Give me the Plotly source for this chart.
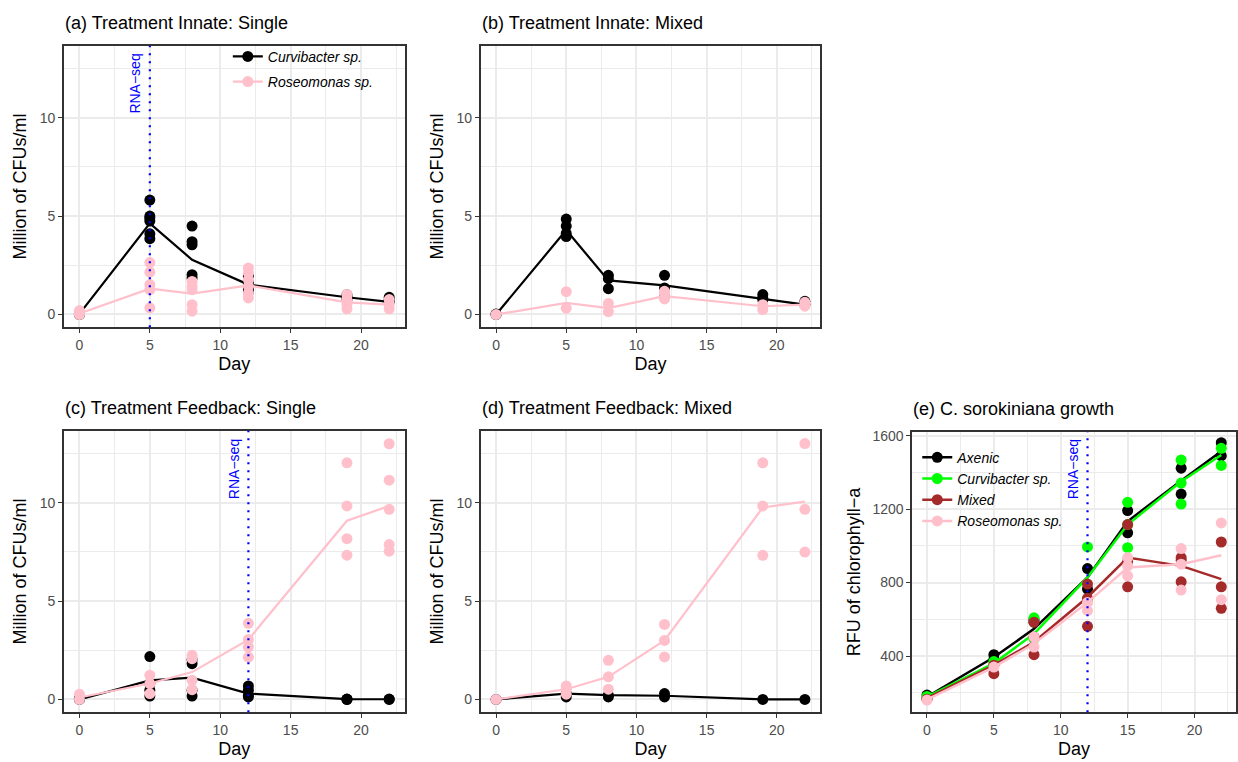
import plotly.graph_objects as go

# ---------------- data ----------------
days = [0, 5, 8, 12, 19, 22]
days_e = [0, 5, 8, 12, 15, 19, 22]

# (a) Innate: Single
a_curvi_pts = [[0.03, 0.0, 0.05], [5.81, 5.0, 4.9, 4.75, 4.1, 3.85], [4.49, 3.70, 3.54, 2.02, 1.85],
               [1.95, 1.6, 1.3, 1.15], [1.0, 0.9, 0.75], [0.87, 0.76, 0.65]]
a_curvi_mean = [0.03, 4.63, 2.78, 1.52, 0.875, 0.64]
a_rose_pts = [[0.2, 0.05, 0.0], [2.64, 2.15, 1.52, 1.26, 0.34], [1.68, 1.43, 1.26, 0.5, 0.17],
              [2.36, 2.10, 1.77, 1.43, 1.09, 0.84], [1.01, 0.76, 0.5, 0.29], [0.76, 0.5, 0.29]]
a_rose_mean = [0.05, 1.31, 1.06, 1.48, 0.62, 0.5]

# (b) Innate: Mixed
b_curvi_pts = [[0.0, 0.02], [4.85, 4.49, 4.12, 3.96], [1.99, 1.82, 1.31], [1.99, 1.35, 0.93],
               [1.01, 0.84, 0.76], [0.67, 0.5]]
b_curvi_mean = [0.0, 4.29, 1.73, 1.48, 0.79, 0.5]
b_rose_pts = [[0.0], [1.16, 0.32], [0.56, 0.15], [1.18, 1.01, 0.79], [0.5, 0.25], [0.62, 0.42]]
b_rose_mean = [0.0, 0.59, 0.32, 0.93, 0.42, 0.5]

# (c) Feedback: Single
c_curvi_pts = [[0.0, 0.05], [2.18, 0.81, 0.47, 0.17], [2.02, 1.82, 0.47, 0.17], [0.69, 0.47, 0.22, 0.13],
               [0.02, 0.0, 0.01], [0.02, 0.0]]
c_curvi_mean = [0.0, 0.97, 1.11, 0.30, 0.02, 0.01]
c_rose_pts = [[0.27, 0.0], [1.23, 0.81, 0.30], [2.24, 2.07, 0.97, 0.5], [3.87, 3.04, 2.66, 2.15],
              [12.02, 9.83, 8.17, 7.33], [12.99, 11.14, 9.66, 7.87, 7.53]]
c_rose_mean = [0.1, 0.81, 1.39, 3.04, 9.08, 9.83]

# (d) Feedback: Mixed
d_curvi_pts = [[0.0], [0.3, 0.13], [0.22, 0.13], [0.3, 0.13], [0.0], [0.0]]
d_curvi_mean = [0.0, 0.30, 0.22, 0.19, 0.0, 0.0]
d_rose_pts = [[0.0], [0.69, 0.52, 0.27], [1.99, 1.15, 0.52], [3.81, 3.0, 2.16],
              [12.02, 9.83, 7.32], [13.0, 9.66, 7.49]]
d_rose_mean = [0.0, 0.52, 1.15, 3.0, 9.75, 10.05]

# (e) C. sorokiniana growth
e_axenic_pts = [[187, 169], [407, 380], [599, 584], [876, 765], [1192, 1071], [1423, 1282], [1562, 1490]]
e_axenic_mean = [178, 393, 548, 828, 1134, 1355, 1515]
e_curvi_pts = [[180], [370, 355], [608, 494], [994, 710], [1237, 1116, 990], [1468, 1342, 1228], [1531, 1438]]
e_curvi_mean = [178, 360, 521, 828, 1116, 1351, 1495]
e_mixed_pts = [[165], [304, 350], [407, 503, 584], [562, 714, 792], [777, 914, 1116], [804, 922, 936], [660, 777, 1021]]
e_mixed_mean = [170, 350, 476, 720, 936, 891, 819]
e_rose_pts = [[160], [340], [449, 503], [647, 692], [837, 936, 891], [759, 985, 900], [707, 1125]]
e_rose_mean = [162, 340, 467, 692, 882, 900, 949]

titles = ["(a) Treatment Innate: Single", "(b) Treatment Innate: Mixed",
          "(c) Treatment Feedback: Single", "(d) Treatment Feedback: Mixed",
          "(e) C. sorokiniana growth"]
rna_seq_day = {"a": 5, "c": 12, "e": 12}

# ---------------- styling ----------------
W, H = 1238, 762
FONT = "Liberation Sans, Arial, Helvetica, sans-serif"
BLACK, PINK, GREEN, BROWN = "#000000", "#FFC0CB", "#00FF00", "#A52A2A"
GRID = "#EBEBEB"
FRAME = "#333333"

# panel boxes in pixels: left, top, right, bottom
boxes = {
    "a": (64, 42, 405, 325),
    "b": (481, 42, 821, 325),
    "c": (64, 429, 405, 712),
    "d": (481, 429, 821, 712),
    "e": (913, 430, 1237, 712),
}
axis_ids = {"a": "", "b": "2", "c": "3", "d": "4", "e": "5"}


def flat(xs, pts):
    X, Y = [], []
    for x, vals in zip(xs, pts):
        for v in vals:
            X.append(x)
            Y.append(v)
    return X, Y


fig = go.Figure()


def add_series(panel, xs, pts, mean, color, lw=2.2):
    i = axis_ids[panel]
    X, Y = flat(xs, pts)
    fig.add_trace(go.Scatter(x=X, y=Y, mode="markers", xaxis="x" + i, yaxis="y" + i,
                             marker=dict(color=color, size=11, line=dict(width=0)),
                             showlegend=False, hoverinfo="x+y"))
    fig.add_trace(go.Scatter(x=xs, y=mean, mode="lines", xaxis="x" + i, yaxis="y" + i,
                             line=dict(color=color, width=lw), showlegend=False))


add_series("a", days, a_curvi_pts, a_curvi_mean, BLACK)
add_series("a", days, a_rose_pts, a_rose_mean, PINK)
add_series("b", days, b_curvi_pts, b_curvi_mean, BLACK)
add_series("b", days, b_rose_pts, b_rose_mean, PINK)
add_series("c", days, c_curvi_pts, c_curvi_mean, BLACK)
add_series("c", days, c_rose_pts, c_rose_mean, PINK)
add_series("d", days, d_curvi_pts, d_curvi_mean, BLACK)
add_series("d", days, d_rose_pts, d_rose_mean, PINK)
add_series("e", days_e, e_axenic_pts, e_axenic_mean, BLACK, 2.5)
add_series("e", days_e, e_curvi_pts, e_curvi_mean, GREEN, 2.5)
add_series("e", days_e, e_mixed_pts, e_mixed_mean, BROWN, 2.5)
add_series("e", days_e, e_rose_pts, e_rose_mean, PINK, 2.5)

# legend entries
for name, color in [("Curvibacter sp.", BLACK), ("Roseomonas sp.", PINK)]:
    fig.add_trace(go.Scatter(x=[None], y=[None], mode="lines+markers", name=name,
                             legend="legend", legendgroup="a" + name,
                             line=dict(color=color, width=2.4), marker=dict(color=color, size=11)))
for name, color in [("Axenic", BLACK), ("Curvibacter sp.", GREEN), ("Mixed", BROWN), ("Roseomonas sp.", PINK)]:
    fig.add_trace(go.Scatter(x=[None], y=[None], mode="lines+markers", name=name,
                             legend="legend2", legendgroup="e" + name,
                             line=dict(color=color, width=2.5), marker=dict(color=color, size=11),
                             xaxis="x5", yaxis="y5"))

layout = dict(
    width=W, height=H, margin=dict(l=0, r=0, t=0, b=0),
    paper_bgcolor="white", plot_bgcolor="white",
    font=dict(family=FONT, color="black"),
    showlegend=True,
    legend=dict(x=228 / W, y=1 - 37 / H, xanchor="left", yanchor="top", bgcolor="rgba(255,255,255,0)",
                font=dict(size=14, style="italic"), tracegroupgap=4, traceorder="grouped"),
    legend2=dict(x=918 / W, y=1 - 440 / H, xanchor="left", yanchor="top", bgcolor="rgba(255,255,255,0)",
                 font=dict(size=14, style="italic"), tracegroupgap=0, traceorder="grouped"),
)

shapes, annotations = [], []
# white key box behind legend (a), hides grid lines but stays under the data
shapes.append(dict(type="rect", xref="paper", yref="paper", layer="between",
                   x0=229 / W, x1=383 / W, y0=1 - 97 / H, y1=1 - 44 / H,
                   fillcolor="white", line=dict(width=0)))
for p, (l, t, r, b) in boxes.items():
    i = axis_ids[p]
    xname, yname = "xaxis" + i, "yaxis" + i
    common = dict(showline=True, mirror=True, linecolor=FRAME, linewidth=1.7,
                  ticks="outside", ticklen=4, tickwidth=1.3, tickcolor=FRAME,
                  showgrid=True, gridcolor=GRID, gridwidth=1.6, zeroline=False,
                  tickfont=dict(size=14, color="#4D4D4D", family=FONT))
    layout[xname] = dict(common, domain=[l / W, r / W], anchor="y" + i,
                         range=[-1.1, 23.1], tick0=0, dtick=5,
                         minor=dict(dtick=2.5, showgrid=True, gridcolor=GRID, gridwidth=0.8),
                         title=dict(text="Day", font=dict(size=18, color="black"), standoff=5))
    if p == "e":
        layout[yname] = dict(common, domain=[1 - b / H, 1 - t / H], anchor="x" + i,
                             range=[93.6, 1621.6], tick0=0, dtick=400,
                             minor=dict(dtick=200, showgrid=True, gridcolor=GRID, gridwidth=0.8),
                             title=dict(text="RFU of chlorophyll\u2212a", font=dict(size=18, color="black"), standoff=7))
    else:
        layout[yname] = dict(common, domain=[1 - b / H, 1 - t / H], anchor="x" + i,
                             range=[-0.65, 13.65], tick0=0, dtick=5,
                             minor=dict(dtick=2.5, showgrid=True, gridcolor=GRID, gridwidth=0.8),
                             title=dict(text="Million of CFUs/ml", font=dict(size=18, color="black"), standoff=8))
    k = "abcde".index(p)
    annotations.append(dict(text=titles[k], xref="paper", yref="paper", x=(l - 1) / W, y=1 - (t - 23) / H,
                            xanchor="left", yanchor="middle", showarrow=False,
                            font=dict(size=18, color="black")))
    if p in rna_seq_day:
        d = rna_seq_day[p]
        shapes.append(dict(type="line", xref="x" + i, yref="y" + i + " domain", x0=d, x1=d, y0=0, y1=1,
                           line=dict(color="blue", width=2.2, dash="2px,6px")))
        annotations.append(dict(text="RNA\u2212seq", xref="x" + i, yref="y" + i + " domain", x=d, y=1,
                                xanchor="right", yanchor="top", xshift=-5, yshift=-6, textangle=-90,
                                showarrow=False, font=dict(size=14, color="blue")))

layout["shapes"] = shapes
layout["annotations"] = annotations
fig.update_layout(**layout)
fig.write_html("out.html")
